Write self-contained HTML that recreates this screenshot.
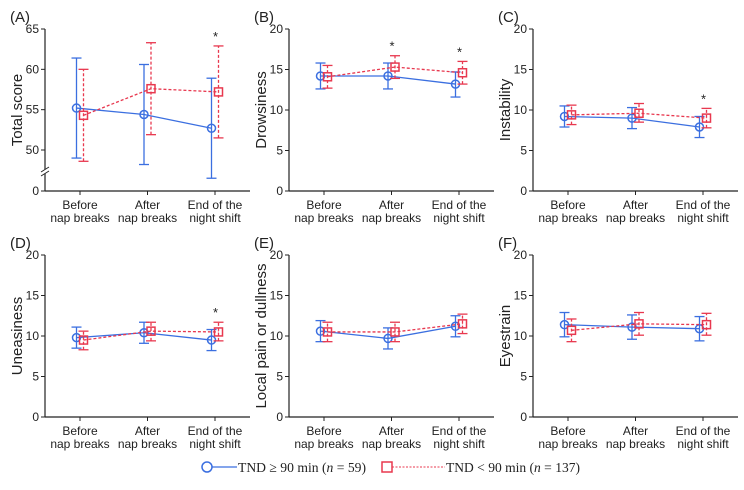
<!DOCTYPE html>
<html><head><meta charset="utf-8"><style>
body{margin:0;background:#fff;}
svg text{font-family:"Liberation Sans",sans-serif;fill:#222;}
</style></head><body>
<svg id="c" width="744" height="485" xmlns="http://www.w3.org/2000/svg"></svg>
<script>
const categories=["Before|nap breaks","After|nap breaks","End of the|night shift"];
const panelLabels=["(A)","(B)","(C)","(D)","(E)","(F)"];
const yTitles=["Total score","Drowsiness","Instability","Uneasiness","Local pain or dullness","Eyestrain"];
const blueMean=[[55.2,54.4,52.7],[14.2,14.2,13.2],[9.2,9.0,7.9],[9.8,10.4,9.5],[10.6,9.7,11.2],[11.4,11.1,10.9]];
const blueLo=[[49.0,48.2,46.5],[12.6,12.6,11.6],[7.9,7.7,6.6],[8.5,9.1,8.2],[9.3,8.4,9.9],[9.9,9.6,9.4]];
const blueHi=[[61.4,60.6,58.9],[15.8,15.8,14.7],[10.5,10.3,9.2],[11.1,11.7,10.8],[11.9,11.0,12.5],[12.9,12.6,12.4]];
const redMean=[[54.3,57.6,57.2],[14.1,15.3,14.6],[9.4,9.6,9.0],[9.5,10.6,10.5],[10.5,10.5,11.5],[10.7,11.5,11.4]];
const redLo=[[48.6,51.9,51.5],[12.7,13.9,13.2],[8.2,8.5,7.8],[8.3,9.4,9.4],[9.3,9.3,10.3],[9.3,10.1,10.1]];
const redHi=[[60.0,63.3,62.9],[15.5,16.7,16.0],[10.6,10.8,10.2],[10.6,11.7,11.7],[11.7,11.7,12.7],[12.1,12.9,12.8]];
const stars=[[0,0,1],[0,1,1],[0,0,1],[0,0,1],[0,0,0],[0,0,0]];
const ticksA=[0,50,55,60,65];
const ticksB=[0,5,10,15,20];

const svg=document.getElementById('c');
const NS="http://www.w3.org/2000/svg";
function mk(tag,attrs,parent,name){
  const e=document.createElementNS(NS,tag);
  for(const k in attrs)e.setAttribute(k,attrs[k]);
  
  
  (parent||svg).appendChild(e);return e;
}
const BLUE="#3b6fe0",RED="#e8384f";
const origins=[[45,29],[289,29],[533,29],[45,255],[289,255],[533,255]];
const H=162;
for(let p=0;p<6;p++){
  const [ax,top]=origins[p];const bot=top+H;
  const g=mk('g',{},svg,'panel-'+"abcdef"[p]);
  let yS;
  if(p===0){
    const k=(150-29)/15;
    yS=v=> v===0?bot:top+(65-v)*k;
  } else yS=v=>bot-v/20*H;
  const xS=i=>ax+35+i*67.5;
  const lbl=mk('text',{x:ax-35,y:top-7,'font-size':15},g,'panel-label');lbl.textContent=panelLabels[p];
  mk('line',{x1:ax,y1:top,x2:ax,y2:bot,stroke:'#222','stroke-width':1.2},g,'y-axis');
  mk('line',{x1:ax,y1:bot,x2:ax+205,y2:bot,stroke:'#222','stroke-width':1.2},g,'x-axis');
  const ticks=p===0?ticksA:ticksB;
  ticks.forEach(t=>{
    const y=yS(t);
    mk('line',{x1:ax-4,y1:y,x2:ax,y2:y,stroke:'#222'},g,'y-tick');
    const tt=mk('text',{x:ax-6,y:y+4,'font-size':12,'text-anchor':'end'},g,'y-tick-label');tt.textContent=t;
  });
  if(p===0){
    mk('line',{x1:ax-4,y1:174,x2:ax+4,y2:169,stroke:'#fff','stroke-width':4},g,'axis-break-gap');
    mk('line',{x1:ax-4,y1:176,x2:ax+4,y2:171,stroke:'#222'},g,'axis-break');
    mk('line',{x1:ax-4,y1:172,x2:ax+4,y2:167,stroke:'#222'},g,'axis-break');
  }
  const yt=mk('text',{transform:`translate(${ax-23},${(top+bot)/2}) rotate(-90)`,'font-size':15,'text-anchor':'middle'},g,'y-axis-title');yt.textContent=yTitles[p];
  categories.forEach((c,i)=>{
    const x=xS(i);
    mk('line',{x1:x,y1:bot,x2:x,y2:bot+4,stroke:'#222'},g,'x-tick');
    const [a,b]=c.split('|');
    const t1=mk('text',{x:x,y:bot+18,'font-size':12,'text-anchor':'middle'},g,'x-tick-label');t1.textContent=a;
    const t2=mk('text',{x:x,y:bot+31,'font-size':12,'text-anchor':'middle'},g,'x-tick-label');t2.textContent=b;
  });
  const series=[[blueMean,blueLo,blueHi,BLUE,-3.5,false],[redMean,redLo,redHi,RED,3.5,true]];
  series.forEach(([M,L,Hh,col,off,dash],si)=>{
    const pts=M[p].map((v,i)=>[xS(i)+off,yS(v)]);
    const da=dash?'3,2':'none';
    mk('polyline',{points:pts.map(q=>q.join(',')).join(' '),fill:'none',stroke:col,'stroke-width':1.3,'stroke-dasharray':da},g,si?'line-tnd-under-90':'line-tnd-90-plus');
    M[p].forEach((v,i)=>{
      const x=xS(i)+off,y1=yS(L[p][i]),y2=yS(Hh[p][i]);
      mk('line',{x1:x,y1:y1,x2:x,y2:y2,stroke:col,'stroke-width':1.3,'stroke-dasharray':da},g,'error-bar');
      mk('line',{x1:x-5,y1:y1,x2:x+5,y2:y1,stroke:col,'stroke-width':1.3},g,'error-cap');
      mk('line',{x1:x-5,y1:y2,x2:x+5,y2:y2,stroke:col,'stroke-width':1.3},g,'error-cap');
      const y=yS(v);
      if(si===0)mk('circle',{cx:x,cy:y,r:4,fill:'none',stroke:col,'stroke-width':1.5},g,'point-tnd-90-plus');
      else mk('rect',{x:x-4,y:y-4,width:8,height:8,fill:'none',stroke:col,'stroke-width':1.5},g,'point-tnd-under-90');
      if(si===1&&stars[p][i]){const s=mk('text',{x:x-3,y:y2-5,'font-size':13,'text-anchor':'middle'},g,'significance-star');s.textContent='*';}
    });
  });
}
const lg=mk('g',{},svg,'legend');
mk('circle',{cx:207,cy:467,r:5,fill:'none',stroke:BLUE,'stroke-width':1.5},lg,'legend-marker-blue');
mk('line',{x1:212,y1:467,x2:237,y2:467,stroke:BLUE,'stroke-width':1.3},lg,'legend-line-blue');
const l1=mk('text',{x:238,y:472,'font-size':14,textLength:128,lengthAdjust:'spacingAndGlyphs',style:'font-family:"Liberation Serif",serif'},lg,'legend-entry-tnd-90-plus');
l1.innerHTML='TND ≥ 90 min (<tspan font-style="italic">n</tspan> = 59)';
mk('rect',{x:382,y:462,width:10,height:10,fill:'none',stroke:RED,'stroke-width':1.5},lg,'legend-marker-red');
mk('line',{x1:392,y1:467,x2:445,y2:467,stroke:RED,'stroke-width':1,'stroke-dasharray':'2,1.5'},lg,'legend-line-red');
const l2=mk('text',{x:446,y:472,'font-size':14,textLength:134,lengthAdjust:'spacingAndGlyphs',style:'font-family:"Liberation Serif",serif'},lg,'legend-entry-tnd-under-90');
l2.innerHTML='TND &lt; 90 min (<tspan font-style="italic">n</tspan> = 137)';
</script>
</body></html>
